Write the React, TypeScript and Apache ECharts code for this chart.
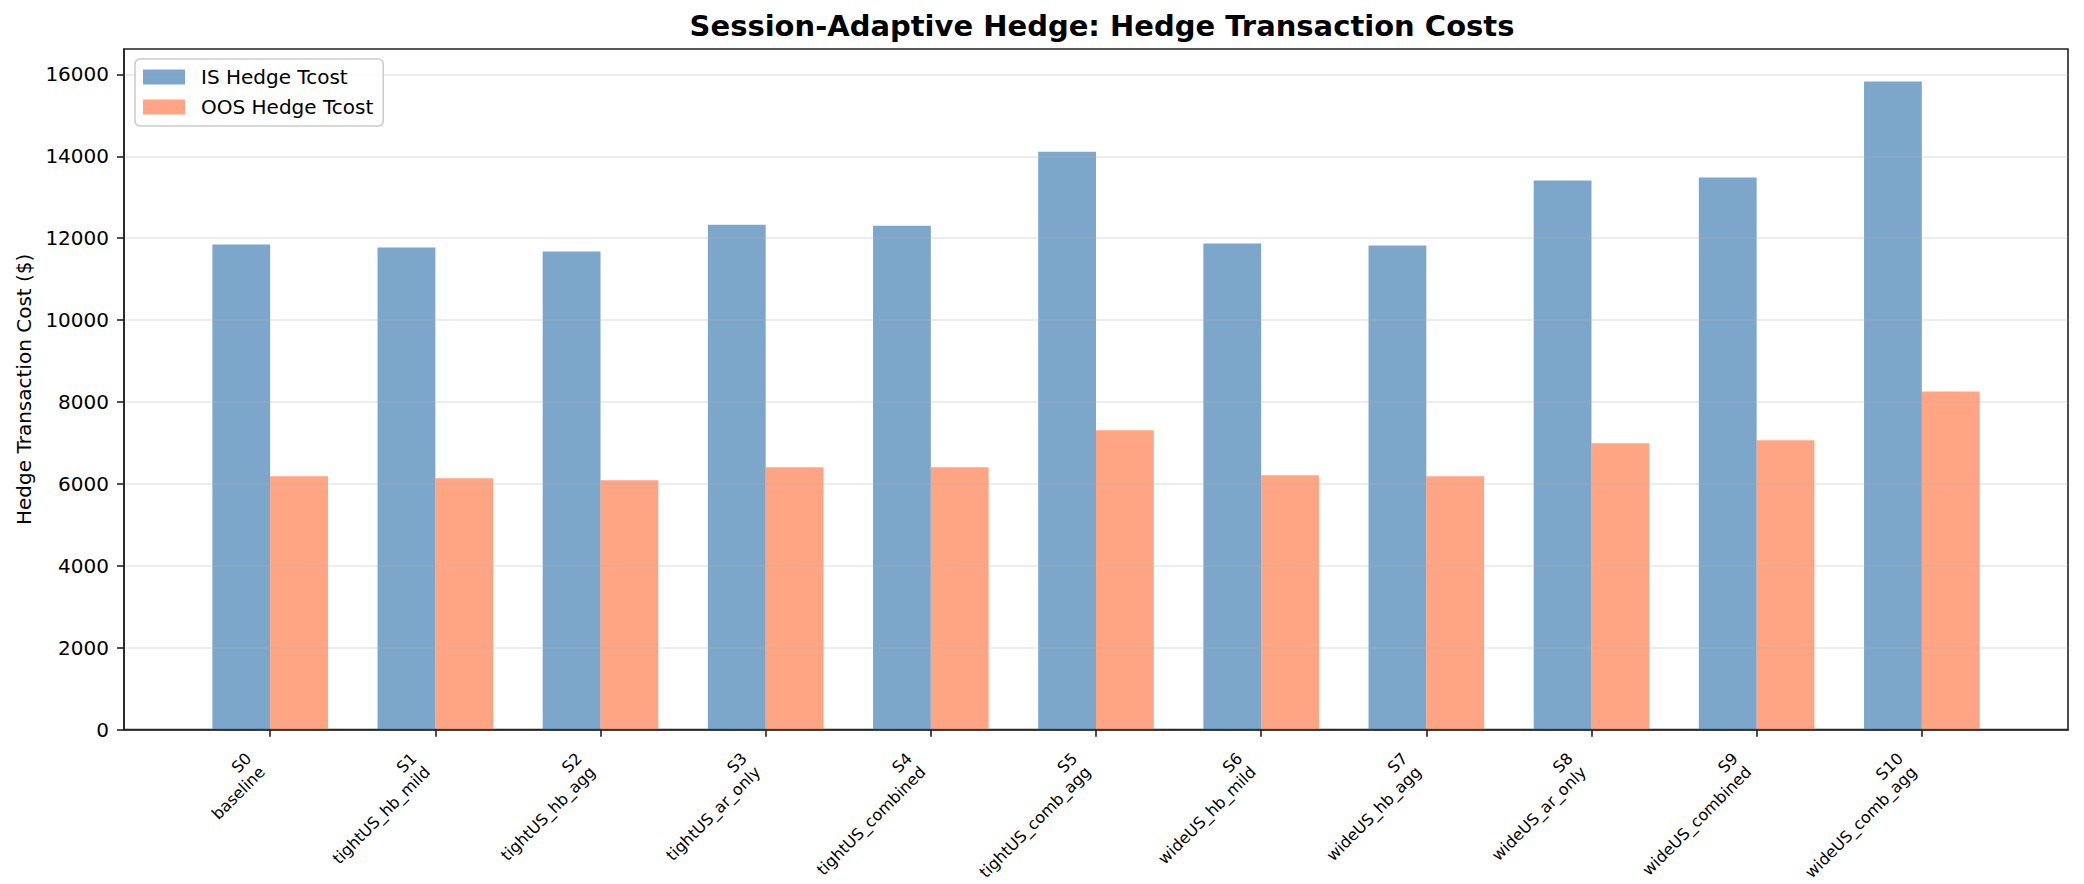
import React, { useEffect, useRef } from "react";
import * as echarts from "echarts";

const categories = ["S0", "S1", "S2", "S3", "S4", "S5", "S6", "S7", "S8", "S9", "S10"];
const scenarioNames = [
  "baseline",
  "tightUS_hb_mild",
  "tightUS_hb_agg",
  "tightUS_ar_only",
  "tightUS_combined",
  "tightUS_comb_agg",
  "wideUS_hb_mild",
  "wideUS_hb_agg",
  "wideUS_ar_only",
  "wideUS_combined",
  "wideUS_comb_agg",
];
const isTcost = [11846, 11773, 11676, 12332, 12308, 14113, 11870, 11822, 13409, 13482, 15830];
const oosTcost = [6187, 6138, 6089, 6407, 6407, 7309, 6211, 6187, 6992, 7065, 8260];
const yTicks = [0, 2000, 4000, 6000, 8000, 10000, 12000, 14000, 16000];
const seriesNames = ["IS Hedge Tcost", "OOS Hedge Tcost"];
const titleText = "Session-Adaptive Hedge: Hedge Transaction Costs";
const yAxisName = "Hedge Transaction Cost ($)";

const FONT = "DejaVu Sans";

export default function App() {
  const ref = useRef<HTMLDivElement>(null);
  useEffect(() => {
    if (!ref.current) return;
    const chart = echarts.init(ref.current, undefined, { renderer: "svg" });
    const n = categories.length;
    const span = n - 1 + 0.7;
    const xMin = -0.35 - 0.05 * span;
    const xMax = n - 1 + 0.35 + 0.05 * span;
    const idx = categories.map((_, i) => i);
    const yMax = Math.max(...isTcost, ...oosTcost) * 1.05;

    chart.setOption({
      animation: false,
      textStyle: { fontFamily: FONT },
      title: {
        text: titleText,
        left: 1097,
        textAlign: "center",
        top: 6,
        textStyle: { fontSize: 29, fontWeight: "bold", color: "#000", fontFamily: FONT },
      },
      legend: {
        data: seriesNames,
        orient: "vertical",
        left: 135,
        top: 59,
        icon: "rect",
        itemWidth: 42,
        itemHeight: 15,
        itemGap: 8,
        padding: [7, 10, 8, 8],
        backgroundColor: "rgba(255,255,255,0.8)",
        borderColor: "#cccccc",
        borderWidth: 1.6,
        borderRadius: 5,
        textStyle: { fontSize: 20, color: "#000", fontFamily: FONT, lineHeight: 22, padding: [0, 0, 0, 11] },
        z: 10,
      },
      grid: {
        left: 124,
        right: 16,
        top: 49,
        bottom: 151,
        show: true,
        borderColor: "#222",
        borderWidth: 1.6,
        backgroundColor: "transparent",
      },
      xAxis: {
        type: "value",
        min: xMin,
        max: xMax,
        z: 3,
        axisLine: { show: true, onZero: false, lineStyle: { color: "#222", width: 1.6 } },
        axisTick: {
          show: true,
          customValues: idx,
          length: 7,
          lineStyle: { color: "#222", width: 1.6 },
        },
        axisLabel: {
          customValues: idx,
          rotate: 45,
          fontSize: 16,
          lineHeight: 19,
          color: "#000",
          fontFamily: FONT,
          margin: 18,
          padding: [0, 21, 0, 0],
          formatter: (v: number) => `${categories[Math.round(v)]}\n${scenarioNames[Math.round(v)]}`,
        },
        splitLine: { show: false },
      },
      yAxis: {
        type: "value",
        min: 0,
        max: yMax,
        interval: 2000,
        z: 3,
        name: yAxisName,
        nameLocation: "middle",
        nameGap: 88,
        nameTextStyle: { fontSize: 20, color: "#000", fontFamily: FONT },
        axisLine: { show: true, onZero: false, lineStyle: { color: "#222", width: 1.6 } },
        axisTick: {
          show: true,
          customValues: yTicks,
          length: 7,
          lineStyle: { color: "#222", width: 1.6 },
        },
        axisLabel: {
          customValues: yTicks,
          fontSize: 20,
          color: "#000",
          fontFamily: FONT,
          margin: 15,
          formatter: (v: number) => String(Math.round(v)),
        },
        splitLine: { show: true, lineStyle: { color: "rgba(176,176,176,0.3)", width: 1.6 } },
      },
      series: [
        {
          name: seriesNames[0],
          type: "bar",
          data: isTcost.map((v, i) => [i, v]),
          barWidth: "35%",
          barGap: "0%",
          itemStyle: { color: "rgba(70,130,180,0.7)" },
        },
        {
          name: seriesNames[1],
          type: "bar",
          data: oosTcost.map((v, i) => [i, v]),
          barWidth: "35%",
          barGap: "0%",
          itemStyle: { color: "rgba(255,127,80,0.7)" },
        },
      ],
    });
    return () => chart.dispose();
  }, []);
  return (
    <div
      ref={ref}
      style={{ position: "absolute", left: 0, top: 0, width: 2084, height: 884, background: "#fff" }}
    />
  );
}
